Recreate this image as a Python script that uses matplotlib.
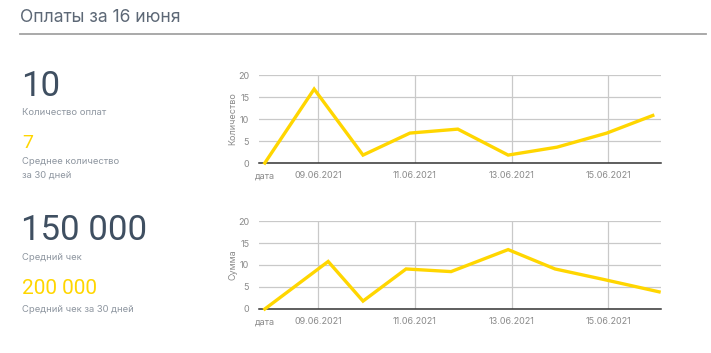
import matplotlib
matplotlib.use("Agg")
import matplotlib.pyplot as plt

plt.rcParams["font.family"] = ["Inter", "DejaVu Sans"]

# data (day of June as float)
count_x = [7.9, 8.92, 9.93, 10.9, 11.89, 12.93, 13.94, 14.97, 15.92]
count_y = [0, 16.8, 1.8, 6.8, 7.7, 1.8, 3.6, 6.8, 10.8]
sum_x = [7.9, 9.21, 9.93, 10.82, 11.75, 12.93, 13.9, 14.91, 16.05]
sum_y = [0, 10.8, 1.8, 9.1, 8.5, 13.5, 9.1, 6.7, 3.9]

date_ticks = [9, 11, 13, 15]
date_labels = ["09.06.2021", "11.06.2021", "13.06.2021", "15.06.2021"]
y_ticks = [0, 5, 10, 15, 20]

YELLOW = "#ffd600"
DARK = "#3f4f61"
GRAY = "#8e96a0"

W, H = 711, 353
fig = plt.figure(figsize=(W / 100, H / 100), dpi=100)


def fx(px):
    return px / W


def fy(py):
    return 1 - py / H


num = dict(family=["Roboto", "DejaVu Sans"], va="center")

# header
fig.text(fx(20), fy(18), "Оплаты за 16 июня", fontsize=12.6, color="#5d6876", va="center")
fig.add_artist(plt.Line2D([fx(20), fx(706)], [fy(34), fy(34)], color="#a3a3a3", lw=1.3))

# left side figures
fig.text(fx(21), fy(86), "10", fontsize=25, color=DARK, **num)
fig.text(fx(22), fy(112), "Количество оплат", fontsize=6.8, color=GRAY, va="center")
fig.text(fx(22), fy(143), "7", fontsize=14, color=YELLOW, **num)
fig.text(fx(22), fy(162), "Среднее количество", fontsize=6.8, color=GRAY, va="center")
fig.text(fx(22), fy(175), "за 30 дней", fontsize=6.8, color=GRAY, va="center")

fig.text(fx(21), fy(231), "150 000", fontsize=25, color=DARK, **num)
fig.text(fx(22), fy(257), "Средний чек", fontsize=6.8, color=GRAY, va="center")
fig.text(fx(22), fy(288), "200 000", fontsize=15, color=YELLOW, **num)
fig.text(fx(22), fy(310), "Средний чек за 30 дней", fontsize=6.8, color=GRAY, va="center")


def draw_chart(bottom_px, xs, ys, ylabel):
    left, right, top = 259, 661, bottom_px - 88
    ax = fig.add_axes([fx(left), fy(bottom_px), (right - left) / W, (bottom_px - top) / H])
    ax.plot(xs, ys, color=YELLOW, lw=2.4, clip_on=False, zorder=3, solid_joinstyle="miter")
    ax.set_xlim(7.78, 16.09)
    ax.set_ylim(0, 20)
    ax.set_yticks(y_ticks)
    ax.yaxis.grid(True, color="#c9c9c9", lw=0.9)
    for d in date_ticks:
        ax.axvline(d, color="#c9c9c9", lw=0.9, zorder=1)
    ax.set_xticks([xs[0]] + date_ticks)
    ax.set_xticklabels(["дата"] + date_labels)
    ax.tick_params(length=0, labelsize=6.5, labelcolor="#8a8a8a")
    ax.tick_params(axis="x", pad=6)
    ax.tick_params(axis="y", pad=7)
    for s in ["top", "right", "left"]:
        ax.spines[s].set_visible(False)
    ax.spines["bottom"].set_color("#333333")
    ax.spines["bottom"].set_linewidth(1.1)
    ax.set_axisbelow(True)
    fig.text(fx(233), fy(bottom_px - 44), ylabel, rotation=90, fontsize=6.5,
             color="#8a8a8a", ha="center", va="center")
    return ax


draw_chart(163, count_x, count_y, "Количество")
draw_chart(309, sum_x, sum_y, "Сумма")

fig.savefig("out.png", dpi=100, facecolor="white")
